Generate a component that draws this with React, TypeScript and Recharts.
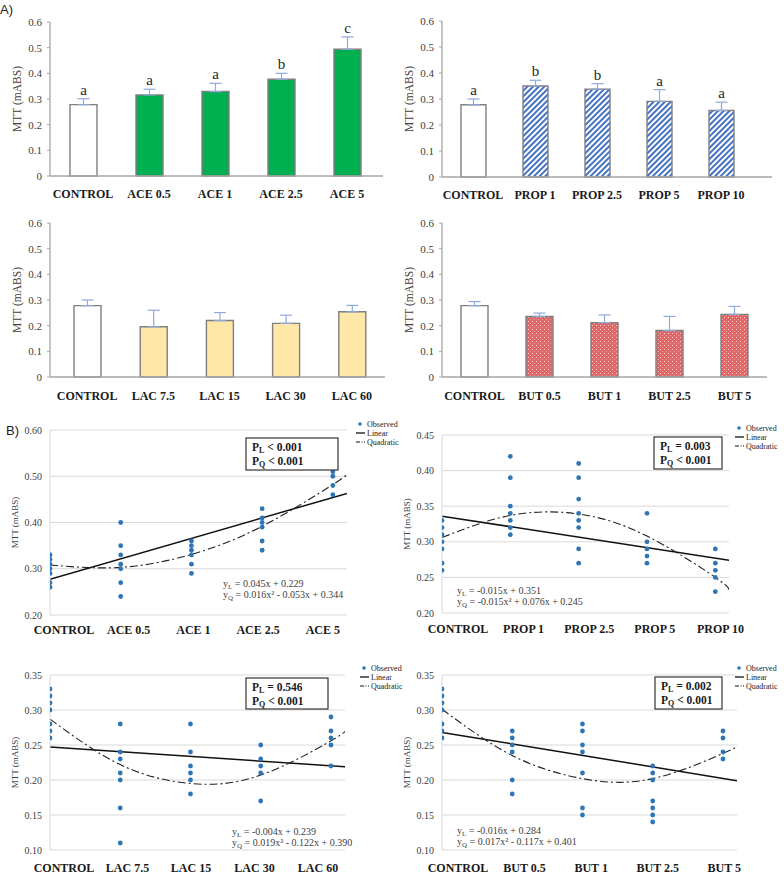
import React from "react";
import {
  BarChart,
  Bar,
  XAxis,
  YAxis,
  Cell,
  ErrorBar,
  LabelList,
  ComposedChart,
  Scatter,
  Line,
  CartesianGrid,
  Legend,
} from "recharts";

const SERIF = '"Liberation Serif", "DejaVu Serif", serif';
const DOT = "#2E75B6";

// ---- A) bar panels ----
const aceCats = ["CONTROL", "ACE 0.5", "ACE 1", "ACE 2.5", "ACE 5"];
const aceMeans = [0.278, 0.316, 0.329, 0.377, 0.494];
const aceErr = [0.023, 0.022, 0.032, 0.023, 0.048];
const aceLetters = ["a", "a", "a", "b", "c"];

const propCats = ["CONTROL", "PROP 1", "PROP 2.5", "PROP 5", "PROP 10"];
const propMeans = [0.278, 0.35, 0.338, 0.291, 0.256];
const propErr = [0.022, 0.022, 0.021, 0.045, 0.032];
const propLetters = ["a", "b", "b", "a", "a"];

const lacCats = ["CONTROL", "LAC 7.5", "LAC 15", "LAC 30", "LAC 60"];
const lacMeans = [0.278, 0.196, 0.22, 0.209, 0.254];
const lacErr = [0.022, 0.064, 0.031, 0.032, 0.025];

const butCats = ["CONTROL", "BUT 0.5", "BUT 1", "BUT 2.5", "BUT 5"];
const butMeans = [0.278, 0.236, 0.212, 0.181, 0.244];
const butErr = [0.016, 0.013, 0.03, 0.055, 0.031];

const barTicks = [0, 0.1, 0.2, 0.3, 0.4, 0.5, 0.6];

// ---- B) regression panels: observed values per group (x = 1..5) ----
const aceObs = [
  [0.33, 0.32, 0.31, 0.3, 0.29, 0.27, 0.26],
  [0.4, 0.35, 0.33, 0.31, 0.3, 0.27, 0.24],
  [0.36, 0.35, 0.34, 0.33, 0.31, 0.29],
  [0.43, 0.41, 0.4, 0.39, 0.36, 0.34],
  [0.53, 0.51, 0.5, 0.48, 0.46],
];
const aceLin = [0.277, 0.463];
const aceQuad = [0.308, 0.303, 0.331, 0.392, 0.482, 0.505];

const propObs = [
  [0.33, 0.32, 0.31, 0.3, 0.29, 0.27, 0.26],
  [0.42, 0.39, 0.35, 0.34, 0.33, 0.32, 0.31],
  [0.41, 0.39, 0.36, 0.34, 0.33, 0.32, 0.29, 0.27],
  [0.34, 0.3, 0.29, 0.28, 0.27],
  [0.29, 0.27, 0.26, 0.25, 0.23],
];
const propLin = [0.336, 0.274];
const propQuad = [0.306, 0.337, 0.339, 0.308, 0.25, 0.232];

const lacObs = [
  [0.33, 0.32, 0.31, 0.3, 0.28, 0.27, 0.26],
  [0.28, 0.24, 0.23, 0.21, 0.2, 0.16, 0.11],
  [0.28, 0.24, 0.22, 0.21, 0.2, 0.18],
  [0.25, 0.23, 0.22, 0.21, 0.17],
  [0.29, 0.27, 0.26, 0.25, 0.22],
];
const lacLin = [0.247, 0.219];
const lacQuad = [0.287, 0.222, 0.195, 0.207, 0.256, 0.27];

const butObs = [
  [0.33, 0.32, 0.31, 0.3, 0.28, 0.27, 0.26],
  [0.27, 0.26, 0.25, 0.24, 0.2, 0.18],
  [0.28, 0.27, 0.25, 0.24, 0.21, 0.16, 0.15],
  [0.22, 0.21, 0.2, 0.17, 0.16, 0.15, 0.14],
  [0.27, 0.26, 0.24, 0.23],
];
const butLin = [0.268, 0.199];
const butQuad = [0.301, 0.235, 0.202, 0.202, 0.238, 0.248];

const fitX = [1, 2, 3, 4, 5, 5.2];
const linX = [1, 5.2];

const yTicks1 = [0.2, 0.3, 0.4, 0.5, 0.6];
const yTicks2 = [0.2, 0.25, 0.3, 0.35, 0.4, 0.45];
const yTicks3 = [0.1, 0.15, 0.2, 0.25, 0.3, 0.35];

const yTitle = "MTT (mABS)";

function makeTitle(x: number, size: number) {
  return (p: any) => {
    const vb = p.viewBox || {};
    const cy = (vb.y || 0) + (vb.height || 0) / 2;
    return (
      <text
        x={x}
        y={cy}
        transform={`rotate(-90 ${x} ${cy})`}
        textAnchor="middle"
        dominantBaseline="central"
        fontFamily={SERIF}
        fontSize={size}
        fill="#404040"
      >
        {yTitle}
      </text>
    );
  };
}

type BarProps = {
  left: number;
  top: number;
  width: number;
  height: number;
  mTop: number;
  mRight: number;
  xH: number;
  tickGap: number;
  padL?: number;
  padR?: number;
  barSize: number;
  cats: string[];
  means: number[];
  errs: number[];
  letters?: string[];
  fill: string;
  defs?: React.ReactNode;
};

function BarPanel(p: BarProps) {
  const data = p.cats.map((c, i) => ({
    name: c,
    v: p.means[i],
    e: [0, p.errs[i]],
    l: p.letters ? p.letters[i] : "",
  }));

  const renderLetter = (lp: any) => {
    const vb = lp.viewBox && lp.viewBox.width != null ? lp.viewBox : lp;
    const x = Number(vb.x);
    const y = Number(vb.y);
    const w = Number(vb.width);
    const h = Math.abs(Number(vb.height));
    const i = lp.index;
    const pxPer = h / p.means[i];
    const ty = y - p.errs[i] * pxPer - 4;
    return (
      <text x={x + w / 2} y={ty} textAnchor="middle" fontFamily={SERIF} fontSize={15} fill="#262626">
        {lp.value}
      </text>
    );
  };

  return (
    <div style={{ position: "absolute", left: p.left, top: p.top }}>
      <BarChart
        width={p.width}
        height={p.height}
        data={data}
        margin={{ top: p.mTop, right: p.mRight, bottom: 0, left: 0 }}
      >
        {p.defs}
        <XAxis
          dataKey="name"
          height={p.xH}
          interval={0}
          tickLine={false}
          tickSize={0}
          tickMargin={p.tickGap}
          padding={{ left: p.padL || 0, right: p.padR || 0 }}
          axisLine={{ stroke: "#a6a6a6", strokeWidth: 1.3 }}
          tick={{ fontFamily: SERIF, fontSize: 12, fontWeight: 700, fill: "#1a1a1a" }}
        />
        <YAxis
          width={50}
          domain={[0, 0.6]}
          ticks={barTicks}
          tickSize={3}
          tickMargin={5}
          tickFormatter={(v: number) => (v === 0 ? "0" : v.toFixed(1))}
          axisLine={{ stroke: "#a6a6a6", strokeWidth: 1.3 }}
          tickLine={{ stroke: "#a6a6a6" }}
          tick={{ fontFamily: SERIF, fontSize: 11, fill: "#404040" }}
          label={{ content: makeTitle(17, 11.5) }}
        />
        <Bar dataKey="v" barSize={p.barSize} stroke="#7f7f7f" strokeWidth={1.4} isAnimationActive={false}>
          {data.map((_, i) => (
            <Cell key={i} fill={i === 0 ? "#ffffff" : p.fill} />
          ))}
          <ErrorBar dataKey="e" width={6} stroke="#8eaadb" strokeWidth={1.2} direction="y" />
          {p.letters && <LabelList dataKey="l" content={renderLetter} />}
        </Bar>
      </BarChart>
    </div>
  );
}

type ScatterProps = {
  left: number;
  top: number;
  width: number;
  height: number;
  mTop: number;
  mRight: number;
  xH: number;
  tickGap: number;
  yTicks: number[];
  obs: number[][];
  lin: number[];
  quad: number[];
  cats: string[];
  labOff: number;
  labSq: number;
  legLeft: number;
  legTop: number;
  titleSize: number;
};

function ScatterPanel(p: ScatterProps) {
  const pts = p.obs.flatMap((vals, i) => vals.map((v) => ({ x: i + 1, y: v })));
  const linData = linX.map((x, i) => ({ x, y: p.lin[i] }));
  const quadData = fitX.map((x, i) => ({ x, y: p.quad[i] }));
  const plotLeft = 50;

  const renderTick = (tp: any) => {
    const idx = Math.round(tp.payload.value) - 1;
    const lx = plotLeft + p.labOff + (tp.x - plotLeft) * p.labSq;
    return (
      <text
        x={lx}
        y={tp.y}
        dy="0.71em"
        textAnchor="middle"
        fontFamily={SERIF}
        fontSize={12}
        fontWeight={700}
        fill="#1a1a1a"
      >
        {p.cats[idx]}
      </text>
    );
  };

  const renderLegend = () => (
    <svg width={60} height={28} style={{ display: "block", overflow: "visible" }}>
      <circle cx={4} cy={4} r={1.8} fill={DOT} />
      <text x={11} y={6.5} fontFamily={SERIF} fontSize={8} fill="#222">
        Observed
      </text>
      <line x1={0} x2={9} y1={13} y2={13} stroke="#111" strokeWidth={1.3} />
      <text x={11} y={15.5} fontFamily={SERIF} fontSize={8} fill="#222">
        Linear
      </text>
      <line x1={0} x2={9} y1={22} y2={22} stroke="#111" strokeWidth={1.1} strokeDasharray="4 1.5 1 1.5" />
      <text x={11} y={24.5} fontFamily={SERIF} fontSize={8} fill="#222">
        Quadratic
      </text>
    </svg>
  );

  const lo = p.yTicks[0];
  const hi = p.yTicks[p.yTicks.length - 1];

  return (
    <div style={{ position: "absolute", left: p.left, top: p.top }}>
      <ComposedChart
        width={p.width}
        height={p.height}
        margin={{ top: p.mTop, right: p.mRight, bottom: 0, left: 0 }}
      >
        <CartesianGrid vertical={false} stroke="#d9d9d9" strokeWidth={1} />
        <XAxis
          dataKey="x"
          type="number"
          domain={[1, 5.2]}
          ticks={[1, 2, 3, 4, 5]}
          allowDataOverflow
          height={p.xH}
          axisLine={false}
          tickLine={false}
          tickSize={0}
          tickMargin={p.tickGap}
          tick={renderTick}
        />
        <YAxis
          dataKey="y"
          type="number"
          width={50}
          domain={[lo, hi]}
          ticks={p.yTicks}
          allowDataOverflow
          tickSize={0}
          tickMargin={8}
          tickLine={false}
          axisLine={{ stroke: "#d9d9d9" }}
          tickFormatter={(v: number) => v.toFixed(2)}
          tick={{ fontFamily: SERIF, fontSize: 10, fill: "#404040" }}
          label={{ content: makeTitle(15, p.titleSize) }}
        />
        <Legend
          content={renderLegend}
          layout="horizontal"
          align="center"
          verticalAlign="middle"
          wrapperStyle={{ left: p.legLeft, top: p.legTop, width: 60, height: 28 }}
        />
        <Scatter
          name="Observed"
          data={pts}
          dataKey="y"
          isAnimationActive={false}
          shape={(sp: any) => <circle cx={sp.cx} cy={sp.cy} r={2.4} fill={DOT} />}
        />
        <Line
          name="Linear"
          data={linData}
          dataKey="y"
          type="linear"
          stroke="#111"
          strokeWidth={1.5}
          dot={false}
          activeDot={false}
          isAnimationActive={false}
        />
        <Line
          name="Quadratic"
          data={quadData}
          dataKey="y"
          type="natural"
          stroke="#222"
          strokeWidth={1.1}
          strokeDasharray="8 3 2 3"
          dot={false}
          activeDot={false}
          isAnimationActive={false}
        />
      </ComposedChart>
    </div>
  );
}

// annotation texts
const pTexts = [
  { l: "< 0.001", q: "< 0.001" },
  { l: "= 0.003", q: "< 0.001" },
  { l: "= 0.546", q: "< 0.001" },
  { l: "= 0.002", q: "< 0.001" },
];
const eqTexts = [
  { l: "0.045x + 0.229", q: "0.016x² - 0.053x + 0.344" },
  { l: "-0.015x + 0.351", q: "-0.015x² + 0.076x + 0.245" },
  { l: "-0.004x + 0.239", q: "0.019x² - 0.122x + 0.390" },
  { l: "-0.016x + 0.284", q: "0.017x² - 0.117x + 0.401" },
];
const pBoxes = [
  { x: 246, y: 438, w: 92, h: 32 },
  { x: 654, y: 437, w: 68, h: 32 },
  { x: 246, y: 678, w: 82, h: 31 },
  { x: 655, y: 677, w: 67, h: 32 },
];
const eqPos = [
  { x: 223, y: 587 },
  { x: 457, y: 594 },
  { x: 232, y: 835 },
  { x: 457, y: 834 },
];

function Annotations() {
  return (
    <svg
      width={784}
      height={874}
      style={{ position: "absolute", left: 0, top: 0, pointerEvents: "none" }}
    >
      <text x={0} y={14} fontFamily='"Liberation Sans", Arial, sans-serif' fontSize={13} fill="#222">
        A)
      </text>
      <text x={6} y={435} fontFamily='"Liberation Sans", Arial, sans-serif' fontSize={13} fill="#222">
        B)
      </text>
      {pBoxes.map((b, i) => (
        <g key={i}>
          <rect x={b.x} y={b.y} width={b.w} height={b.h} fill="#fff" stroke="#333" strokeWidth={1.2} />
          <text x={b.x + 6} y={b.y + 13} fontFamily={SERIF} fontSize={11.5} fontWeight={700} fill="#1a1a1a">
            P
            <tspan fontSize={8} dy={2}>
              L
            </tspan>
            <tspan dy={-2}> {pTexts[i].l}</tspan>
          </text>
          <text x={b.x + 6} y={b.y + 27} fontFamily={SERIF} fontSize={11.5} fontWeight={700} fill="#1a1a1a">
            P
            <tspan fontSize={8} dy={2}>
              Q
            </tspan>
            <tspan dy={-2}> {pTexts[i].q}</tspan>
          </text>
        </g>
      ))}
      {eqPos.map((e, i) => (
        <g key={i}>
          <text x={e.x} y={e.y} fontFamily={SERIF} fontSize={10} fill="#404040">
            y
            <tspan fontSize={7} dy={2}>
              L
            </tspan>
            <tspan dy={-2}> = {eqTexts[i].l}</tspan>
          </text>
          <text x={e.x} y={e.y + 11} fontFamily={SERIF} fontSize={10} fill="#404040">
            y
            <tspan fontSize={7} dy={2}>
              Q
            </tspan>
            <tspan dy={-2}> = {eqTexts[i].q}</tspan>
          </text>
        </g>
      ))}
    </svg>
  );
}

export default function App() {
  return (
    <div
      style={{
        position: "absolute",
        left: 0,
        top: 0,
        width: 784,
        height: 874,
        background: "#fff",
        fontFamily: SERIF,
      }}
    >
      <BarPanel
        left={0}
        top={0}
        width={392}
        height={205}
        mTop={22}
        mRight={9}
        xH={29}
        tickGap={13}
        padR={3}
        barSize={27}
        cats={aceCats}
        means={aceMeans}
        errs={aceErr}
        letters={aceLetters}
        fill="#00B050"
      />
      <BarPanel
        left={392}
        top={0}
        width={392}
        height={205}
        mTop={21}
        mRight={12}
        xH={28}
        tickGap={13}
        padR={20}
        barSize={25}
        cats={propCats}
        means={propMeans}
        errs={propErr}
        letters={propLetters}
        fill="url(#propStripes)"
        defs={
          <defs>
            <pattern id="propStripes" patternUnits="userSpaceOnUse" width={4} height={4} patternTransform="rotate(45)">
              <rect x={0} y={0} width={4} height={4} fill="#ffffff" />
              <rect x={0} y={0} width={2} height={4} fill="#4472C4" />
            </pattern>
          </defs>
        }
      />
      <BarPanel
        left={0}
        top={205}
        width={392}
        height={205}
        mTop={18}
        mRight={7}
        xH={33}
        tickGap={14}
        padL={4}
        barSize={27}
        cats={lacCats}
        means={lacMeans}
        errs={lacErr}
        fill="#FFE7A8"
      />
      <BarPanel
        left={392}
        top={205}
        width={392}
        height={205}
        mTop={18}
        mRight={17}
        xH={33}
        tickGap={14}
        barSize={27}
        cats={butCats}
        means={butMeans}
        errs={butErr}
        fill="url(#butDots)"
        defs={
          <defs>
            <pattern id="butDots" patternUnits="userSpaceOnUse" width={4} height={4}>
              <rect x={0} y={0} width={4} height={4} fill="#E06668" />
              <rect x={0} y={0} width={1} height={1} fill="#FBD3D3" />
              <rect x={2} y={2} width={1} height={1} fill="#F0A0A0" />
            </pattern>
          </defs>
        }
      />
      <ScatterPanel
        left={0}
        top={420}
        width={410}
        height={220}
        mTop={10}
        mRight={63}
        xH={25}
        tickGap={10}
        yTicks={yTicks1}
        obs={aceObs}
        lin={aceLin}
        quad={aceQuad}
        cats={aceCats}
        labOff={14}
        labSq={0.915}
        legLeft={356}
        legTop={0}
        titleSize={9}
      />
      <ScatterPanel
        left={392}
        top={420}
        width={392}
        height={220}
        mTop={15}
        mRight={55}
        xH={27}
        tickGap={11}
        yTicks={yTicks2}
        obs={propObs}
        lin={propLin}
        quad={propQuad}
        cats={propCats}
        labOff={16}
        labSq={0.96}
        legLeft={343}
        legTop={4}
        titleSize={9}
      />
      <ScatterPanel
        left={0}
        top={660}
        width={410}
        height={214}
        mTop={15}
        mRight={65}
        xH={24}
        tickGap={13}
        yTicks={yTicks3}
        obs={lacObs}
        lin={lacLin}
        quad={lacQuad}
        cats={lacCats}
        labOff={14}
        labSq={0.904}
        legLeft={360}
        legTop={4}
        titleSize={9}
      />
      <ScatterPanel
        left={392}
        top={660}
        width={392}
        height={214}
        mTop={15}
        mRight={47}
        xH={24}
        tickGap={13}
        yTicks={yTicks3}
        obs={butObs}
        lin={butLin}
        quad={butQuad}
        cats={butCats}
        labOff={16}
        labSq={0.948}
        legLeft={343}
        legTop={4}
        titleSize={9}
      />
      <Annotations />
    </div>
  );
}
